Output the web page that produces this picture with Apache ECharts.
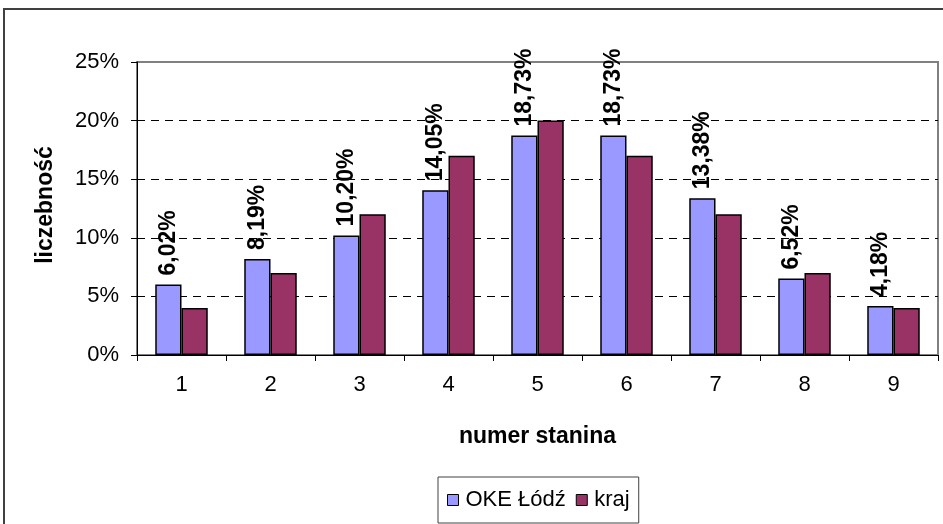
<!DOCTYPE html>
<html>
<head>
<meta charset="utf-8">
<script src="https://cdn.jsdelivr.net/npm/echarts@6/dist/echarts.min.js"></script>
<style>
  html, body { margin: 0; padding: 0; background: #fff; }
  #main { width: 943px; height: 524px; }
</style>
</head>
<body>
<div id="main"></div>
<script>
  // numery stanin
  var categories = ['1', '2', '3', '4', '5', '6', '7', '8', '9'];
  var okeLodz = [6.02, 8.19, 10.20, 14.05, 18.73, 18.73, 13.38, 6.52, 4.18];
  var kraj = [4, 7, 12, 17, 20, 17, 12, 7, 4];
  var yTicks = [0, 5, 10, 15, 20, 25];

  var font = 'Liberation Sans, Arial, sans-serif';
  var chart = echarts.init(document.getElementById('main'));

  var option = {
    animation: false,
    backgroundColor: '#fff',
    textStyle: { fontFamily: font },
    grid: {
      left: 137, right: 5, top: 62, bottom: 169,
      show: true, borderColor: '#808080', borderWidth: 2,
      containLabel: false
    },
    legend: {
      data: ['OKE Łódź', 'kraj'],
      left: 438, top: 477,
      padding: [12, 9, 12, 9],
      borderColor: '#404040', borderWidth: 1,
      itemWidth: 11, itemHeight: 11, itemGap: 10,
      icon: 'rect',
      itemStyle: { borderColor: '#000', borderWidth: 1 },
      textStyle: { fontSize: 22, color: '#000', fontFamily: font, padding: [0, 0, 0, 2] }
    },
    xAxis: {
      type: 'category',
      data: categories,
      name: 'numer stanina',
      nameLocation: 'middle',
      nameGap: 70,
      nameTextStyle: { fontSize: 23, fontWeight: 'bold', color: '#000', fontFamily: font },
      axisLine: { lineStyle: { color: '#000', width: 1 } },
      axisTick: { show: true, length: 6, lineStyle: { color: '#000' } },
      axisLabel: { fontSize: 22, color: '#000', margin: 19, fontFamily: font },
      splitLine: { show: false }
    },
    yAxis: {
      type: 'value',
      min: yTicks[0],
      max: yTicks[yTicks.length - 1],
      interval: 5,
      axisLine: { show: true, lineStyle: { color: '#000', width: 1 } },
      axisTick: { show: true, length: 6, lineStyle: { color: '#000' } },
      axisLabel: {
        fontSize: 22, color: '#000', margin: 18, fontFamily: font,
        formatter: function (v) { return v + '%'; }
      },
      splitLine: {
        show: true,
        lineStyle: {
          color: ['rgba(0,0,0,0)', '#000', '#000', '#000', '#000', 'rgba(0,0,0,0)'],
          type: [8, 6], width: 1
        }
      }
    },
    series: [
      {
        name: 'OKE Łódź',
        type: 'bar',
        data: okeLodz,
        barGap: 0,
        barCategoryGap: '41%',
        itemStyle: { color: '#9999FF', borderColor: '#000', borderWidth: 1.5 },
        label: {
          show: true,
          position: 'top',
          rotate: 90,
          distance: 9,
          align: 'left',
          verticalAlign: 'middle',
          fontSize: 23,
          fontWeight: 'bold',
          color: '#000',
          fontFamily: font,
          formatter: function (p) { return p.value.toFixed(2).replace('.', ',') + '%'; }
        }
      },
      {
        name: 'kraj',
        type: 'bar',
        data: kraj,
        barGap: 0,
        barCategoryGap: '41%',
        itemStyle: { color: '#993366', borderColor: '#000', borderWidth: 1.5 }
      }
    ],
    graphic: [
      {
        type: 'rect',
        shape: { x: 4, y: 9, width: 945, height: 520 },
        style: { fill: 'none', stroke: '#404040', lineWidth: 2 },
        silent: true
      },
      {
        type: 'text',
        x: 46, y: 205,
        rotation: Math.PI / 2,
        style: {
          text: 'liczebność',
          fontSize: 23, fontWeight: 'bold', fill: '#000', fontFamily: font,
          align: 'center', verticalAlign: 'middle'
        }
      }
    ]
  };

  chart.setOption(option);
</script>
</body>
</html>
